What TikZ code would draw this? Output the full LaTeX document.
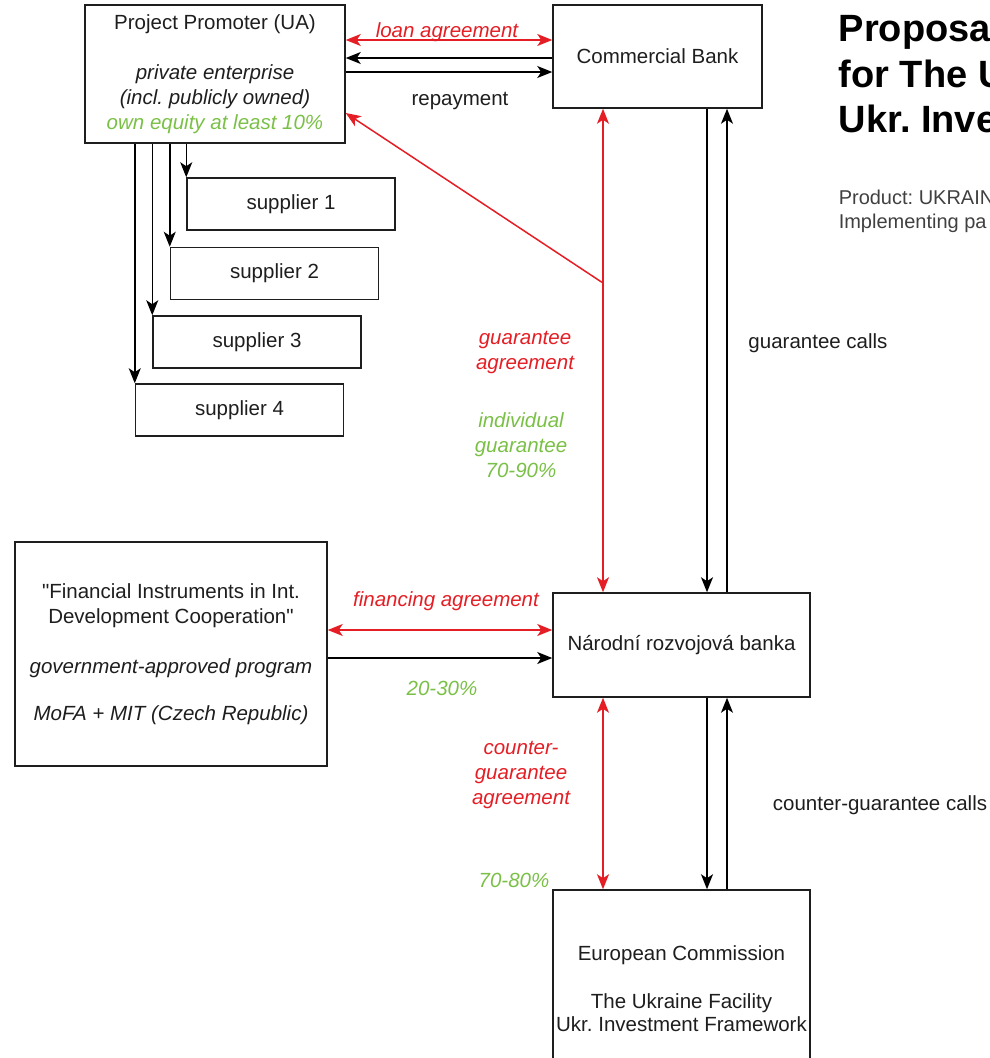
\documentclass[tikz,border=0pt]{standalone}
\usepackage{fontspec}
\setmainfont{Liberation Sans}
\usetikzlibrary{arrows.meta}

\definecolor{ink}{RGB}{30,30,30}
\definecolor{agred}{RGB}{228,30,36}
\definecolor{pctgreen}{RGB}{122,192,70}
\frenchspacing

\begin{document}
\begin{tikzpicture}[
		x=1pt, y=-1pt,
		line width=1.5pt,
		fwd/.style={-{Stealth[length=15pt, width=12pt, inset=4pt]}},
		both/.style={{Stealth[length=15pt, width=12pt, inset=4pt]}-{Stealth[length=15pt, width=12pt, inset=4pt]}},
		every node/.style={inner sep=0pt, text=ink, align=center, font=\fontsize{20.5}{25}\selectfont},
		box/.style={draw=ink, rectangle},
		ag/.style={text=agred, font=\fontsize{20.5}{25}\selectfont\itshape},
		pct/.style={text=pctgreen, font=\fontsize{20.5}{25}\selectfont\itshape}
	]
  \useasboundingbox (0,0) rectangle (990,1058);
  \clip (0,0) rectangle (990,1058);

  \node (promoter) [box, minimum width=260pt, minimum height=138pt] at (215, 74) {Project Promoter (UA)\\[25pt] \textit{private enterprise}\\ \textit{(incl. publicly owned)}\\ \textcolor{pctgreen}{\textit{own equity at least 10\%}}};
  \node (bank) [box, minimum width=209pt, minimum height=103pt] at (657.5, 56.5) {Commercial Bank};
  \node (s1) [box, minimum width=208pt, minimum height=52pt] at (291, 204) {supplier 1};
  \node (s2) [box, minimum width=208pt, minimum height=52pt] at (274.5, 273.5) {supplier 2};
  \node (s3) [box, minimum width=208pt, minimum height=52pt] at (257, 342) {supplier 3};
  \node (s4) [box, minimum width=208pt, minimum height=52pt] at (239.5, 410) {supplier 4};
  \node (fi) [box, minimum width=312pt, minimum height=224pt] at (171, 654) {\textquotedbl Financial Instruments in Int.\\ Development Cooperation\textquotedbl\\[25pt] \textit{government-approved program}\\[22pt] \textit{MoFA + MIT (Czech Republic)}};
  \node (nrb) [box, minimum width=257pt, minimum height=104pt] at (681.5, 645) {Národní rozvojová banka};
  \node (ec) [box, minimum width=257pt, minimum height=198pt] at (681.5, 989) {European Commission\\[23pt] The Ukraine Facility\\[-2pt] Ukr. Investment Framework};

  \node (title) [anchor=north west, align=left, text=black, font=\fontsize{38}{45.5}\selectfont\bfseries] at (838, 15) {Proposa\\for The U\\Ukr. Inve};
  \node (product) [anchor=north west, align=left, text=ink!85, font=\fontsize{20}{24}\selectfont] at (838, 189) {Product: UKRAIN\\Implementing pa};

  \coordinate (gsplit) at (603, 283);
  \coordinate (calldown) at (707, 0);
  \coordinate (callup) at (727, 0);

  % promoter and bank
  \draw[agred] ([yshift=34pt]promoter.east) edge[both] ([yshift=16.5pt]bank.west);
  \draw ([yshift=-1.5pt]bank.west) edge[fwd] ([yshift=16pt]promoter.east);
  \draw ([yshift=2pt]promoter.east) edge[fwd] ([yshift=-15.5pt]bank.west);
  \node (loanlbl) [ag, anchor=base] at (447, 37) {loan agreement};
  \node (repay) at (460, 101) {repayment};

  % suppliers
  \draw (promoter.south -| s1.north west) edge[fwd] (s1.north west);
  \draw (promoter.south -| s2.north west) edge[fwd] (s2.north west);
  \draw (promoter.south -| s3.north west) edge[fwd] (s3.north west);
  \draw (promoter.south -| s4.north west) edge[fwd] (s4.north west);

  % guarantee
  \draw[agred] (gsplit) edge[fwd] ([yshift=-39pt]promoter.east);
  \draw[agred] (bank.south -| gsplit) edge[both] (nrb.north -| gsplit);
  \draw (bank.south -| calldown) edge[fwd] (nrb.north -| calldown);
  \draw (nrb.north -| callup) edge[fwd] (bank.south -| callup);
  \node (gagree) [ag] at (525, 352) {guarantee\\agreement};
  \node (indiv) [pct] at (521, 445) {individual\\guarantee\\70-90\%};
  \node (gcalls) at (818, 343) {guarantee calls};

  % financing
  \draw[agred] ([yshift=24pt]fi.east) edge[both] ([yshift=15pt]nrb.west);
  \draw ([yshift=-4pt]fi.east) edge[fwd] ([yshift=-13pt]nrb.west);
  \node (finlbl) [ag] at (446, 601) {financing agreement};
  \node (fipct) [pct] at (442, 688) {20-30\%};

  % counter-guarantee
  \draw[agred] (nrb.south -| gsplit) edge[both] (ec.north -| gsplit);
  \draw (nrb.south -| calldown) edge[fwd] (ec.north -| calldown);
  \draw (ec.north -| callup) edge[fwd] (nrb.south -| callup);
  \node (cgagree) [ag] at (521, 775) {counter-\\guarantee\\agreement};
  \node (cgpct) [pct] at (514, 880) {70-80\%};
  \node (cgcalls) at (880, 805) {counter-guarantee calls};
\end{tikzpicture}
\end{document}
